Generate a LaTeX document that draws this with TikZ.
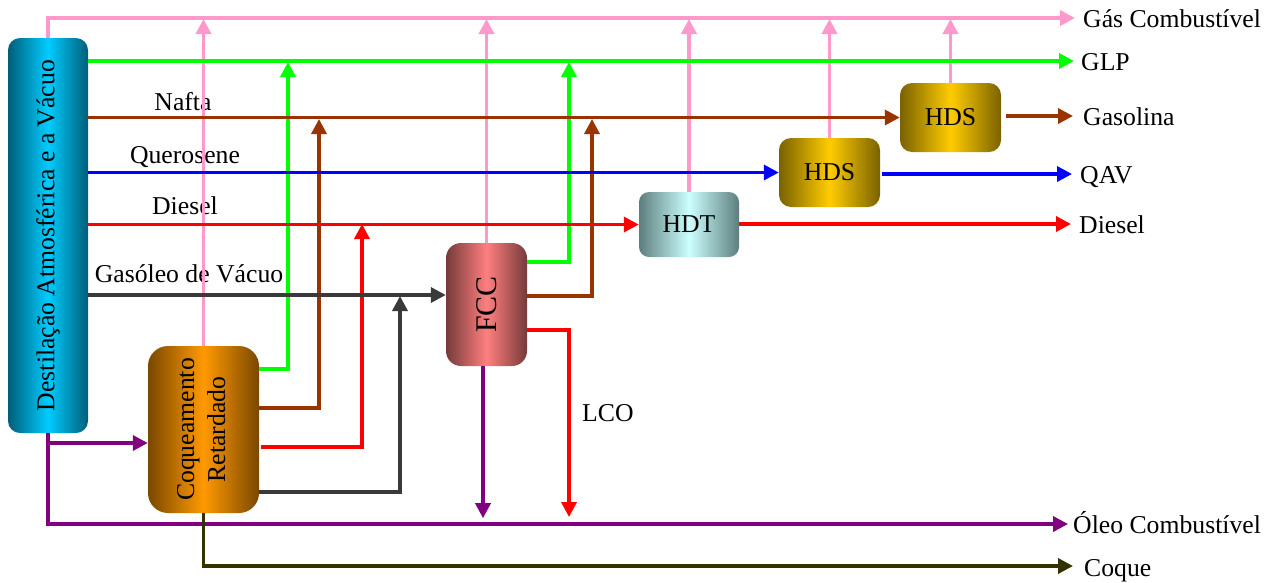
\documentclass[tikz,border=0pt]{standalone}
\usepackage{fontspec}
\usepackage{graphicx}
\setmainfont{Liberation Serif}
\usetikzlibrary{arrows.meta}
\definecolor{cpink}{HTML}{FF99CC}
\definecolor{cgreen}{HTML}{00FF00}
\definecolor{cbrown}{HTML}{993300}
\definecolor{cblue}{HTML}{0000FF}
\definecolor{cred}{HTML}{FF0000}
\definecolor{cgray}{HTML}{3A3A3A}
\definecolor{cpurple}{HTML}{800080}
\definecolor{ccoque}{HTML}{333300}
\definecolor{destD}{HTML}{005E78}
\definecolor{destL}{HTML}{00CCFF}
\definecolor{coqD}{HTML}{7A4800}
\definecolor{coqL}{HTML}{FF9900}
\definecolor{fccD}{HTML}{763A3A}
\definecolor{fccL}{HTML}{FF7F7F}
\definecolor{hdtD}{HTML}{5E7E7E}
\definecolor{hdtL}{HTML}{CCFFFF}
\definecolor{hdsD}{HTML}{7A6200}
\definecolor{hdsL}{HTML}{FFCC00}
\begin{document}
\begin{tikzpicture}[x=1pt,y=-1pt,
  flow/.style={line width=3.5pt},
  arr/.style={-{Triangle[length=15pt,width=15pt]}},
  txt/.style={inner sep=0pt, font=\fontsize{25.7}{31}\selectfont},
  lab/.style={txt, anchor=base west},
  clab/.style={txt, anchor=base},
  unit/.style={inner sep=0pt, font=\fontsize{25.7}{31}\selectfont, rounded corners=#1},
  unit/.default=12pt,
  hshade/.style 2 args={left color=#1, right color=#1, middle color=#2},
]
\useasboundingbox (0,0) rectangle (1279,582);

% units
\node[unit, minimum width=80pt, minimum height=395pt, hshade={destD}{destL}] (dest) at (48,235.5)
  {\rotatebox{90}{Destilação Atmosférica e a Vácuo}};
\node[unit=20pt, minimum width=111pt, minimum height=167pt, hshade={coqD}{coqL}] (coque) at (203.5,429.5)
  {\rotatebox{90}{\begin{tabular}{@{}c@{}}Coqueamento\\Retardado\end{tabular}}};
\node[unit=15pt, minimum width=81pt, minimum height=123pt, hshade={fccD}{fccL}, font=\fontsize{30}{34}\selectfont] (fcc) at (486.5,304.5)
  {\rotatebox{90}{FCC}};
\node[unit=10pt, minimum width=100pt, minimum height=65pt, hshade={hdtD}{hdtL}] (hdt) at (689,224.5) {HDT};
\node[unit, minimum width=101pt, minimum height=69pt, hshade={hdsD}{hdsL}] (hds1) at (829.5,172.5) {HDS};
\node[unit, minimum width=101pt, minimum height=69pt, hshade={hdsD}{hdsL}] (hds2) at (950.5,117.5) {HDS};

% output labels
\node[lab] (lgas) at (1083,27) {Gás Combustível};
\node[lab] (lglp) at (1081,70) {GLP};
\node[lab] (lgasol) at (1083,125) {Gasolina};
\node[lab] (lqav) at (1080,183) {QAV};
\node[lab] (ldiesel) at (1079,233) {Diesel};
\node[lab] (loleo) at (1073,533) {Óleo Combustível};
\node[lab] (lcoque) at (1084,576) {Coque};

% stream labels
\node[clab] (tnafta) at (183,110) {Nafta};
\node[clab] (tquer) at (185,163) {Querosene};
\node[clab] (tdiesel) at (185,214) {Diesel};
\node[clab] (tgasoleo) at (189,282) {Gasóleo de Vácuo};
\node[lab] (tlco) at (582,421) {LCO};

% end points
\coordinate (gasend) at (1075,18);
\coordinate (glpend) at (1074,61);
\coordinate (gasolend) at (1073,116);
\coordinate (qavend) at (1072,174);
\coordinate (dieselend) at (1071,224);
\coordinate (oleoend) at (1068,524);
\coordinate (coqend) at (1073,566);

% Gas combustivel
\draw[flow, cpink, arr] (dest.north) -- (dest.north |- gasend) -- (gasend);
\foreach \u in {coque,fcc,hdt,hds1,hds2}
  \draw[flow, cpink, arr] (\u.north) -- ([yshift=-1pt]\u.north |- gasend);

% GLP
\draw[flow, cgreen, arr] (dest.east |- glpend) -- (glpend);
\coordinate (g1) at (288,62);
\coordinate (g2) at (569,62);
\draw[flow, cgreen, arr] ([yshift=60.5pt]coque.east) -| (g1);
\draw[flow, cgreen, arr] ([yshift=42.5pt]fcc.east) -| (g2);

% Nafta
\draw[flow, cbrown, arr] (dest.east |- hds2.west) -- (hds2.west);
\coordinate (b1) at (319,119);
\coordinate (b2) at (592,119);
\draw[flow, cbrown, arr] ([yshift=21.5pt]coque.east) -| (b1);
\draw[flow, cbrown, arr] ([yshift=8.5pt]fcc.east) -| (b2);
\draw[flow, cbrown, arr] ([xshift=5pt]hds2.east |- gasolend) -- (gasolend);

% Querosene
\draw[flow, cblue, arr] (dest.east |- hds1.west) -- (hds1.west);
\draw[flow, cblue, arr] ([xshift=2pt]hds1.east |- qavend) -- (qavend);

% Diesel
\draw[flow, cred, arr] (dest.east |- hdt.west) -- (hdt.west);
\coordinate (r1) at (362,224);
\draw[flow, cred, arr] ([xshift=2pt,yshift=-17.5pt]coque.east) -| (r1);
\draw[flow, cred, arr] (hdt.east |- dieselend) -- (dieselend);

% Gasoleo de vacuo
\coordinate (gin) at ([yshift=9.5pt]fcc.west);
\draw[flow, cgray, arr] (dest.east |- gin) -- (gin);
\coordinate (k1) at (400,296);
\draw[flow, cgray, arr] ([yshift=-62.5pt]coque.east) -| (k1);

% LCO
\coordinate (lcoend) at (569,517);
\draw[flow, cred, arr] ([yshift=-25.5pt]fcc.east) -| (lcoend);

% Oleo combustivel
\draw[flow, cpurple, arr] (dest.south) -- (dest.south |- oleoend) -- (oleoend);
\coordinate (cin) at ([yshift=-13.5pt]coque.west);
\draw[flow, cpurple, arr] (dest.south |- cin) -- (cin);
\draw[flow, cpurple, arr] ([xshift=-3.5pt]fcc.south) -- ++(0,152);

% Coque
\draw[flow, ccoque, arr] (coque.south) -- (coque.south |- coqend) -- (coqend);
\end{tikzpicture}
\end{document}
